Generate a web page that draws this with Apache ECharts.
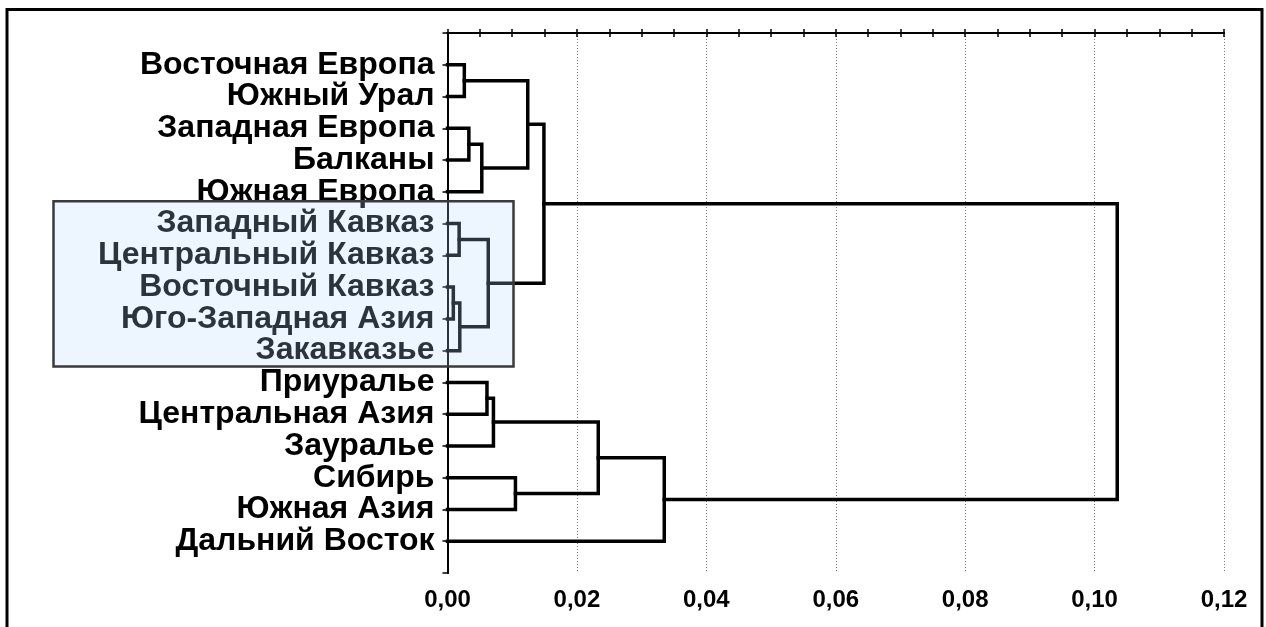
<!DOCTYPE html>
<html>
<head>
<meta charset="utf-8">
<script src="https://cdn.jsdelivr.net/npm/echarts@6/dist/echarts.min.js"></script>
<style>
  html, body { margin: 0; padding: 0; background: #ffffff; }
  #chart { width: 1266px; height: 627px; }
</style>
</head>
<body>
<div id="chart"></div>
<script>
// Leaves of the tree, top to bottom
const leafNames = [
  'Восточная Европа', 'Южный Урал', 'Западная Европа', 'Балканы', 'Южная Европа',
  'Западный Кавказ', 'Центральный Кавказ', 'Восточный Кавказ', 'Юго-Западная Азия', 'Закавказье',
  'Приуралье', 'Центральная Азия', 'Зауралье', 'Сибирь', 'Южная Азия', 'Дальний Восток'
];
// Agglomeration steps: cluster ids (0-15 are leaves, 16+ are earlier joins) and linkage distance
const joinA = [7, 5, 16, 0, 2, 20, 10, 17, 22, 13, 19, 26, 24, 28, 27];
const joinB = [8, 6, 9, 1, 3, 4, 11, 18, 12, 14, 21, 23, 25, 15, 29];
const joinHeight = [0.0009, 0.0018, 0.0019, 0.0026, 0.0033, 0.0053, 0.0061, 0.0063,
                    0.0071, 0.0105, 0.0124, 0.0149, 0.0233, 0.0335, 0.1035];
// Distance axis
const distMin = 0;
const distMax = 0.12;
const distStep = 0.02;
// Highlighted group of leaves (Caucasus block)
const highlightFrom = 5.3;
const highlightTo = 10.5;

// Node positions: x = linkage distance, y = row (leaves on rows 1..16)
const nodeX = leafNames.map(() => 0);
const nodeY = leafNames.map((_, i) => i + 1);
const links = [];
joinA.forEach((a, k) => {
  const b = joinB[k];
  const h = joinHeight[k];
  links.push({
    coords: [[nodeX[a], nodeY[a]], [h, nodeY[a]], [h, nodeY[b]], [nodeX[b], nodeY[b]]]
  });
  nodeX.push(h);
  nodeY.push((nodeY[a] + nodeY[b]) / 2);
});

const FONT = '"Liberation Sans", Arial, sans-serif';
const chart = echarts.init(document.getElementById('chart'), null, { renderer: 'canvas' });

const frameAxis = {
  show: true,
  lineStyle: { color: '#000', width: 2 }
};
const innerTicks = { show: true, inside: true, length: 4, lineStyle: { color: '#000', width: 1.5 } };
const innerMinor = { show: true, splitNumber: 4, length: 4, lineStyle: { color: '#000', width: 1.5 } };

chart.setOption({
  animation: false,
  backgroundColor: '#ffffff',
  grid: { left: 447.5, right: 42, top: 33, bottom: 54, containLabel: false },
  xAxis: [
    {
      type: 'value', position: 'bottom', min: distMin, max: distMax, interval: distStep,
      axisLine: frameAxis,
      axisTick: innerTicks,
      minorTick: innerMinor,
      axisLabel: {
        fontFamily: FONT, fontWeight: 'bold', fontSize: 24, color: '#000', margin: 15,
        formatter: v => v.toFixed(2).replace('.', ',')
      },
      splitLine: { show: true, lineStyle: { color: '#7a7a7a', width: 1, type: [1, 2] } }
    },
    {
      type: 'value', position: 'top', min: distMin, max: distMax, interval: distStep,
      axisLine: frameAxis,
      axisTick: innerTicks,
      minorTick: innerMinor,
      axisLabel: { show: false },
      splitLine: { show: false }
    }
  ],
  yAxis: [
    {
      type: 'value', position: 'left', inverse: true, min: 0, max: leafNames.length + 1, interval: 1,
      axisLine: frameAxis,
      axisTick: { show: false },
      axisLabel: {
        fontFamily: FONT, fontWeight: 'bold', fontSize: 32, color: '#000', margin: 13,
        formatter: v => leafNames[v - 1] || ''
      },
      splitLine: { show: false }
    },
    {
      type: 'value', position: 'right', inverse: true, min: 0, max: leafNames.length + 1, interval: 1,
      axisLine: frameAxis,
      axisTick: { show: true, inside: true, length: 5, lineStyle: { color: '#000', width: 1.5 } },
      axisLabel: { show: false },
      splitLine: { show: false }
    }
  ],
  series: [
    {
      type: 'lines',
      coordinateSystem: 'cartesian2d',
      xAxisIndex: 0,
      yAxisIndex: 0,
      polyline: true,
      silent: true,
      lineStyle: { color: '#000', width: 3.5, opacity: 1, join: 'miter', cap: 'square' },
      data: links,
      z: 5
    }
  ]
});

// Outer frame and the highlight box over the Caucasus group
const yTop = chart.convertToPixel({ yAxisIndex: 0 }, highlightFrom);
const yBottom = chart.convertToPixel({ yAxisIndex: 0 }, highlightTo);
chart.setOption({
  graphic: [
    {
      type: 'rect', z: 100, silent: true,
      shape: { x: 53.5, y: yTop, width: 460, height: yBottom - yTop },
      style: { fill: 'rgba(180, 212, 252, 0.24)', stroke: '#3a3a3a', lineWidth: 2.5 }
    },
    {
      type: 'rect', z: 100, silent: true,
      shape: { x: 7, y: 9.5, width: 1255, height: 700 },
      style: { fill: 'none', stroke: '#000', lineWidth: 3 }
    }
  ]
});
</script>
</body>
</html>
